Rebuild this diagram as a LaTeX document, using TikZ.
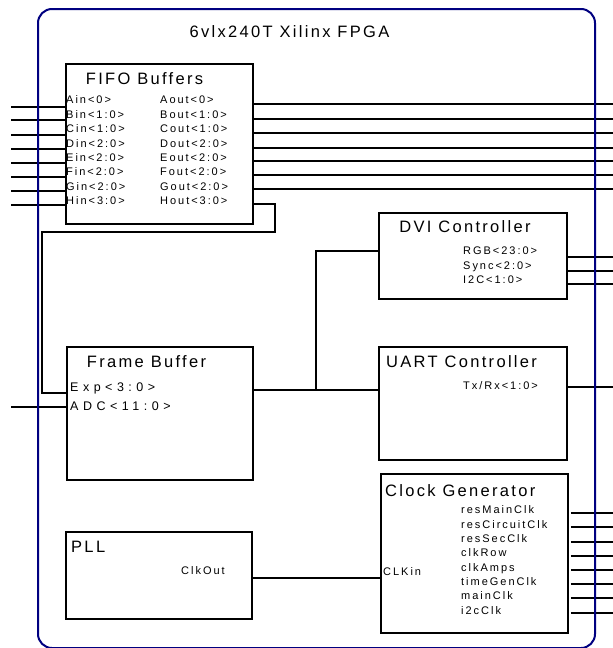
\documentclass[tikz,border=0pt]{standalone}
\usepackage{fontspec}
\setmainfont{Liberation Sans}
\newfontfamily\ttlfont[LetterSpace=14]{Liberation Sans}
\newfontfamily\lblfont[LetterSpace=18]{Liberation Sans}
\newfontfamily\midfont[LetterSpace=36]{Liberation Sans}
\definecolor{fpgablue}{RGB}{0,0,128}
\begin{document}
\begin{tikzpicture}[x=1pt,y=-1pt,
  blk/.style={draw, line width=1.9pt, inner sep=0pt, anchor=north west},
  wire/.style={line width=1.9pt},
  ttl/.style={inner sep=0pt, font=\ttlfont\fontsize{16.5}{16.5}\selectfont, text height=11.8pt, text depth=0pt},
  lbl/.style={inner sep=0pt, anchor=west, font=\lblfont\fontsize{11}{11}\selectfont, text height=7.9pt, text depth=0pt},
  midl/.style={inner sep=0pt, anchor=west, font=\midfont\fontsize{12.5}{12.5}\selectfont, text height=9pt, text depth=0pt}]
\useasboundingbox (0,0) rectangle (613,648);

% blocks
\node[blk, minimum width=187pt, minimum height=160pt] (fifo) at (65,63) {};
\node[blk, minimum width=186pt, minimum height=133pt] (fb) at (66,346) {};
\node[blk, minimum width=188pt, minimum height=86pt] (dvi) at (378,212) {};
\node[blk, minimum width=188pt, minimum height=113pt] (uart) at (378,346) {};
\node[blk, minimum width=187pt, minimum height=159pt] (clk) at (380,473) {};
\node[blk, minimum width=186pt, minimum height=87pt] (pll) at (65,531) {};

% titles
\node[ttl] (fpgattl) at (289.5,32) {6vlx240T Xilinx FPGA};
\node[ttl] (fifottl) at (144.5,79) {FIFO Buffers};
\node[ttl] (fbttl) at (146.5,362) {Frame Buffer};
\node[ttl] (dvittl) at (465,227) {DVI Controller};
\node[ttl, anchor=west] (uartttl) at (386,362) {UART Controller};
\node[ttl, anchor=west] (clkttl) at (385,491) {Clock Generator};
\node[ttl, anchor=west] (pllttl) at (71,547) {PLL};

% FIFO labels
\foreach \n/\yy/\tin/\tout in {a/100/Ain<0>/Aout<0>, b/114.4/Bin<1:0>/Bout<1:0>, c/128.8/Cin<1:0>/Cout<1:0>, d/143.2/Din<2:0>/Dout<2:0>, e/157.6/Ein<2:0>/Eout<2:0>, f/172/Fin<2:0>/Fout<2:0>, g/186.4/Gin<2:0>/Gout<2:0>, h/200.8/Hin<3:0>/Hout<3:0>}{
  \node[lbl] (lin\n) at (66,\yy) {\tin};
  \node[lbl] (lout\n) at (160,\yy) {\tout};
}

% Frame buffer labels
\node[midl] (lexp) at (70,387) {Exp<3:0>};
\node[midl] (ladc) at (70,406) {ADC<11:0>};

% DVI labels
\node[lbl] (lrgb) at (463,251) {RGB<23:0>};
\node[lbl] (lsync) at (463,266) {Sync<2:0>};
\node[lbl] (li2c) at (463,280) {I2C<1:0>};

% UART label
\node[lbl] (ltx) at (463,386) {Tx/Rx<1:0>};

% Clock labels
\foreach \n/\yy/\t in {1/510/resMainClk, 2/524.3/resCircuitClk, 3/538.6/resSecClk, 4/552.9/clkRow, 5/567.2/clkAmps, 6/581.5/timeGenClk, 7/595.8/mainClk, 8/610.1/i2cClk}{
  \node[lbl] (lclk\n) at (461,\yy) {\t};
}
\node[lbl] (lclkin) at (383,572) {CLKin};
\node[lbl, anchor=center] (lclkout) at (203,571) {ClkOut};

% FIFO inputs
\foreach \n/\yy in {a/107, b/120, c/135, d/149, e/163, f/177, g/191, h/205}{
  \coordinate (in\n) at (11,\yy);
  \draw[wire] (in\n) -- (in\n -| fifo.west);
}
% FIFO outputs
\foreach \n/\yy in {a/104, b/119, c/133, d/148, e/161, f/175, g/189}{
  \coordinate (out\n) at (613,\yy);
  \draw[wire] (fifo.east |- out\n) -- (out\n);
}
% Hout to Exp
\draw[wire] (fifo.east |- 0,204) -- (275,204) -- (275,232) -- (42,232) -- (42,393) -- (fb.west |- 0,393);
% ADC input
\coordinate (adcin) at (11,407);
\draw[wire] (adcin) -- (adcin -| fb.west);
% Frame buffer to UART and DVI
\coordinate (jn) at (316,390);
\draw[wire] (fb.east |- jn) -- (uart.west |- jn);
\draw[wire] (jn) -- (316,251) -- (dvi.west |- 0,251);
% DVI outputs
\foreach \n/\yy in {1/257, 2/271, 3/284}{
  \coordinate (dout\n) at (613,\yy);
  \draw[wire] (dvi.east |- dout\n) -- (dout\n);
}
% UART output
\coordinate (uout) at (613,387);
\draw[wire] (uart.east |- uout) -- (uout);
% Clock outputs
\foreach \n/\yy in {1/513, 2/527, 3/542, 4/556, 5/570, 6/584, 7/598, 8/613}{
  \coordinate (cout\n) at (613,\yy);
  \draw[wire] ([xshift=2pt]clk.east |- cout\n) -- (cout\n);
}
% PLL to clock generator
\draw[wire] (pll.east |- 0,578) -- (clk.west |- 0,578);

% FPGA outline on top
\node[draw=fpgablue, line width=2pt, rounded corners=14pt, inner sep=0pt, minimum width=557pt, minimum height=639pt, anchor=north west] (fpga) at (37,8) {};
\end{tikzpicture}
\end{document}
